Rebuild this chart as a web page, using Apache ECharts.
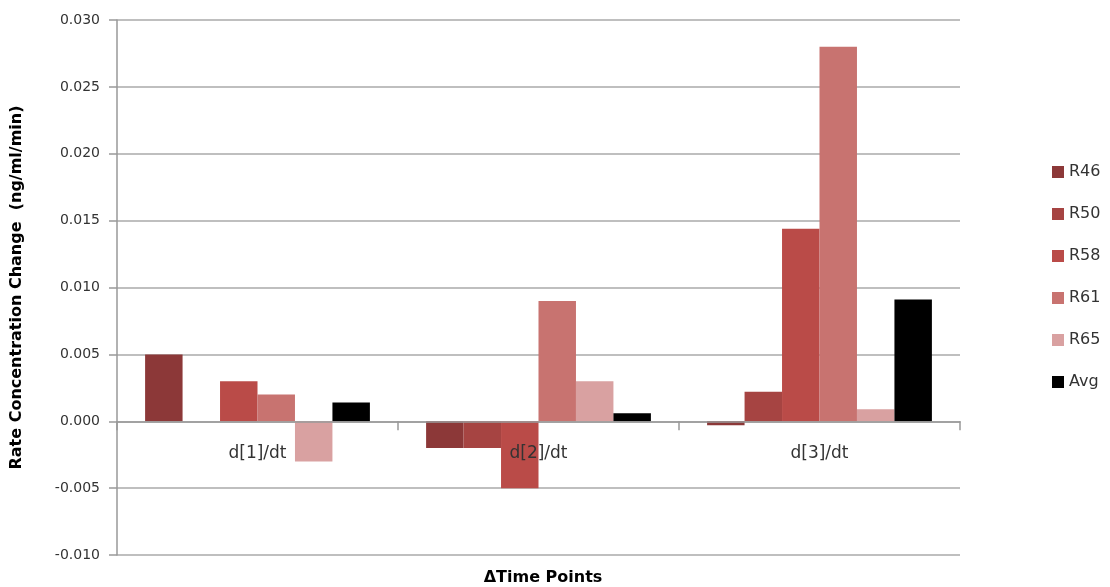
<!DOCTYPE html>
<html><head><meta charset="utf-8">
<script src="https://cdn.jsdelivr.net/npm/echarts@6/dist/echarts.min.js"></script>
<style>html,body{margin:0;padding:0;background:#fff}#c{width:1110px;height:587px}</style>
</head><body><div id="c"></div>
<script>
const categories = ['d[1]/dt', 'd[2]/dt', 'd[3]/dt'];
const seriesNames = ['R46', 'R50', 'R58', 'R61', 'R65', 'Avg'];
const R46 = [0.005, -0.002, -0.0003];
const R50 = [0.0, -0.002, 0.0022];
const R58 = [0.003, -0.005, 0.0144];
const R61 = [0.002, 0.009, 0.028];
const R65 = [-0.003, 0.003, 0.0009];
const Avg = [0.0014, 0.0006, 0.0091];
const colors = ['#8C3838', '#A64442', '#BA4B48', '#C87370', '#D9A1A1', '#000000'];
const values = [R46, R50, R58, R61, R65, Avg];
const font = 'DejaVu Sans, Liberation Sans, sans-serif';
const yMin = -0.01, yMax = 0.03;
const gridTop = 20, gridBottom = 32, H = 587;
const plotH = H - gridTop - gridBottom;
const zeroOffset = plotH * (0 - yMin) / (yMax - yMin);
const chart = echarts.init(document.getElementById('c'), null, {renderer: 'canvas'});
chart.setOption({
  animation: false,
  textStyle: {fontFamily: font},
  grid: {left: 117, right: 150, top: gridTop, bottom: gridBottom, containLabel: false, outerBoundsMode: 'none'},
  title: {
    text: 'ΔTime Points', left: 538, top: 565, textAlign: 'center',
    textStyle: {fontSize: 16, fontWeight: 'bold', color: '#000', fontFamily: font}
  },
  legend: {
    orient: 'vertical', left: 1047, top: 159, itemWidth: 12, itemHeight: 12, itemGap: 26,
    icon: 'rect', data: seriesNames,
    textStyle: {fontSize: 16, color: '#333', fontFamily: font}
  },
  xAxis: {
    type: 'category', data: categories, position: 'bottom', offset: -zeroOffset,
    axisLine: {onZero: false, lineStyle: {color: '#999', width: 1.5}},
    axisTick: {show: true, length: 9, lineStyle: {color: '#999', width: 1.5}},
    axisLabel: {fontSize: 17, color: '#333', margin: 24, fontFamily: font},
    z: 10
  },
  yAxis: {
    type: 'value', min: yMin, max: yMax, interval: 0.005,
    name: 'Rate Concentration Change  (ng/ml/min)', nameLocation: 'middle', nameGap: 92,
    nameTextStyle: {fontSize: 16, fontWeight: 'bold', color: '#000', fontFamily: font},
    axisLine: {show: true, lineStyle: {color: '#999', width: 1.5}},
    axisTick: {show: true, length: 8, lineStyle: {color: '#999', width: 1.5}},
    axisLabel: {fontSize: 14, color: '#333', margin: 17, fontFamily: font,
      formatter: v => v.toFixed(3)},
    splitLine: {lineStyle: {color: '#aaa', width: 1.5}}
  },
  series: seriesNames.map((n, i) => ({
    name: n, type: 'bar', data: values[i],
    barGap: '0%', barCategoryGap: '20%',
    itemStyle: {color: colors[i]}
  }))
});
</script></body></html>
